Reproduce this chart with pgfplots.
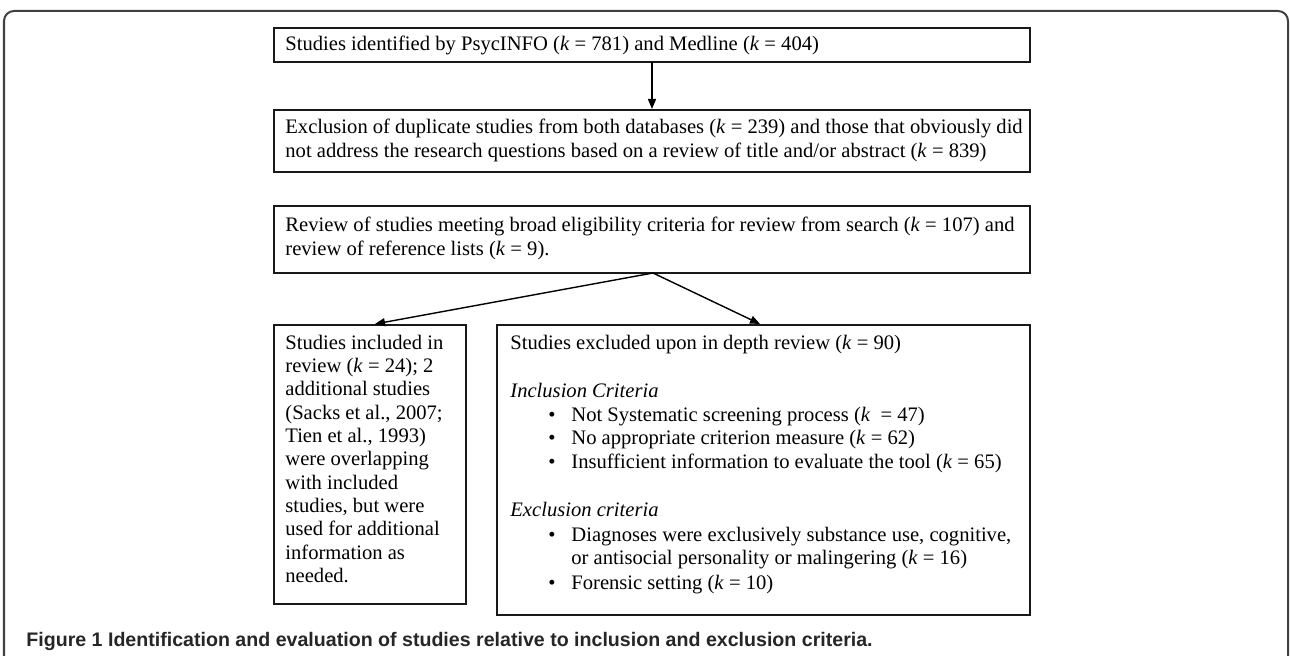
\documentclass[border=0pt]{standalone}
\usepackage{fontspec}
\setmainfont{Liberation Serif}
\newfontfamily\capfont{Liberation Sans}
\usepackage{pgfplots}
\pgfplotsset{compat=1.18}
\usetikzlibrary{arrows.meta}
\begin{document}
\begin{tikzpicture}[
  txt/.style={anchor=base west, inner sep=0pt, font=\fontsize{10.3}{12}\selectfont},
  box/.style={draw=black!90, line width=0.8pt},
  arr/.style={line width=0.7pt, -{Triangle[length=5pt,width=4pt]}}]
\begin{axis}[scale only axis, width=645pt, height=328pt,
  xmin=0, xmax=1290, ymin=0, ymax=656, y dir=reverse,
  hide axis, clip=false]
% outer frame
\draw[line width=1pt, black!75, rounded corners=5pt]
  (axis cs:4,700) -- (axis cs:4,11) -- (axis cs:1288,11) -- (axis cs:1288,700);
% boxes
\draw[box] (axis cs:274,28) rectangle (axis cs:1030,62);
\draw[box] (axis cs:274,110) rectangle (axis cs:1030,172);
\draw[box] (axis cs:274,206) rectangle (axis cs:1030,273);
\draw[box] (axis cs:274,325) rectangle (axis cs:466,604);
\draw[box] (axis cs:497,325) rectangle (axis cs:1030,615);
% arrows
\draw[arr] (axis cs:652,62) -- (axis cs:652,109);
\draw[arr] (axis cs:653,273) -- (axis cs:375,324);
\draw[arr] (axis cs:653,273) -- (axis cs:760,324);
% box texts
\node[txt] at (axis cs:285,51) {Studies identified by PsycINFO (\textit{k} = 781) and Medline (\textit{k} = 404)};
\node[txt] at (axis cs:285,134) {Exclusion of duplicate studies from both databases (\textit{k} = 239) and those that obviously did};
\node[txt] at (axis cs:285,158) {not address the research questions based on a review of title and/or abstract (\textit{k} = 839)};
\node[txt] at (axis cs:285,232) {Review of studies meeting broad eligibility criteria for review from search (\textit{k} = 107) and};
\node[txt] at (axis cs:285,256) {review of reference lists (\textit{k} = 9).};
% left box
\node[txt] at (axis cs:285,350) {Studies included in};
\node[txt] at (axis cs:285,373) {review (\textit{k} = 24); 2};
\node[txt] at (axis cs:285,396) {additional studies};
\node[txt] at (axis cs:285,420) {(Sacks et al., 2007;};
\node[txt] at (axis cs:285,443) {Tien et al., 1993)};
\node[txt] at (axis cs:285,466) {were overlapping};
\node[txt] at (axis cs:285,490) {with included};
\node[txt] at (axis cs:285,513) {studies, but were};
\node[txt] at (axis cs:285,536) {used for additional};
\node[txt] at (axis cs:285,560) {information as};
\node[txt] at (axis cs:285,583) {needed.};
% right box
\node[txt] at (axis cs:510,350) {Studies excluded upon in depth review (\textit{k} = 90)};
\node[txt] at (axis cs:510,398) {\textit{Inclusion Criteria}};
\node[txt] at (axis cs:548,422) {\textbullet};
\node[txt] at (axis cs:571,422) {Not Systematic screening process (\textit{k}\ \ = 47)};
\node[txt] at (axis cs:548,445) {\textbullet};
\node[txt] at (axis cs:571,445) {No appropriate criterion measure (\textit{k} = 62)};
\node[txt] at (axis cs:548,469) {\textbullet};
\node[txt] at (axis cs:571,469) {Insufficient information to evaluate the tool (\textit{k} = 65)};
\node[txt] at (axis cs:510,517) {\textit{Exclusion criteria}};
\node[txt] at (axis cs:548,542) {\textbullet};
\node[txt] at (axis cs:571,542) {Diagnoses were exclusively substance use, cognitive,};
\node[txt] at (axis cs:571,565) {or antisocial personality or malingering (\textit{k} = 16)};
\node[txt] at (axis cs:548,590) {\textbullet};
\node[txt] at (axis cs:571,590) {Forensic setting (\textit{k} = 10)};
% caption
\node[anchor=base west, inner sep=0pt, font=\capfont\bfseries\fontsize{9.8}{11}\selectfont, black!85]
  at (axis cs:26,647) {Figure 1 Identification and evaluation of studies relative to inclusion and exclusion criteria.};
\end{axis}
\pgfresetboundingbox
\path (current axis.south west) rectangle (current axis.north east);
\end{tikzpicture}
\end{document}
